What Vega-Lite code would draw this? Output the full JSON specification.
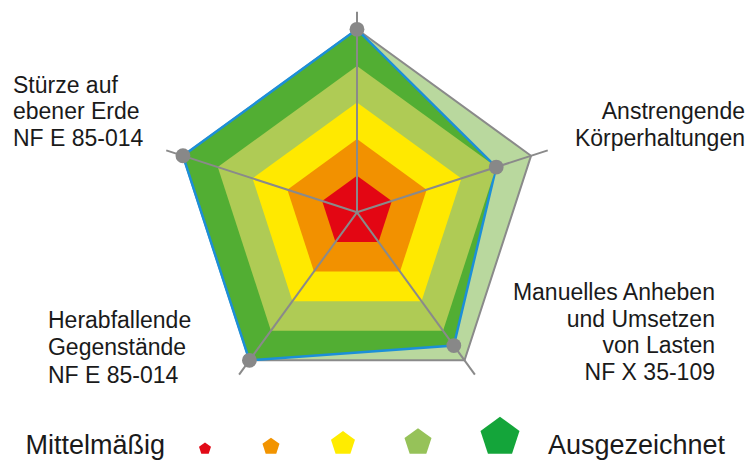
{
  "$schema": "https://vega.github.io/schema/vega-lite/v6.json",
  "autosize": {"type": "fit", "contains": "padding"},
  "width": 756,
  "height": 460,
  "padding": 0,
  "background": "white",
  "config": {"view": {"stroke": null}, "text": {"font": "Liberation Sans", "fontSize": 23, "color": "#1a1a1a"}},
  "datasets": {
    "rings": [
      {"band": 1, "k": 0}, {"band": 1, "k": 1}, {"band": 1, "k": 2}, {"band": 1, "k": 3}, {"band": 1, "k": 4},
      {"band": 2, "k": 0}, {"band": 2, "k": 1}, {"band": 2, "k": 2}, {"band": 2, "k": 3}, {"band": 2, "k": 4},
      {"band": 3, "k": 0}, {"band": 3, "k": 1}, {"band": 3, "k": 2}, {"band": 3, "k": 3}, {"band": 3, "k": 4},
      {"band": 4, "k": 0}, {"band": 4, "k": 1}, {"band": 4, "k": 2}, {"band": 4, "k": 3}, {"band": 4, "k": 4},
      {"band": 5, "k": 0}, {"band": 5, "k": 1}, {"band": 5, "k": 2}, {"band": 5, "k": 3}, {"band": 5, "k": 4}
    ],
    "scores": [
      {"axis": "(oben)", "k": 0, "value": 5},
      {"axis": "Anstrengende Körperhaltungen", "k": 1, "value": 4},
      {"axis": "Manuelles Anheben und Umsetzen von Lasten", "k": 2, "value": 4.5},
      {"axis": "Herabfallende Gegenstände", "k": 3, "value": 5},
      {"axis": "Stürze auf ebener Erde", "k": 4, "value": 5}
    ],
    "legend": [
      {"level": 1, "name": "Mittelmäßig"},
      {"level": 2, "name": ""},
      {"level": 3, "name": ""},
      {"level": 4, "name": ""},
      {"level": 5, "name": "Ausgezeichnet"}
    ]
  },
  "layer": [
    {
      "data": {"name": "rings"},
      "transform": [
        {"filter": "datum.band == 5"},
        {"calculate": "PI/2 - 2*PI*datum.k/5", "as": "theta"},
        {"calculate": "datum.band*cos(datum.theta)", "as": "px"},
        {"calculate": "datum.band*sin(datum.theta)", "as": "py"}
      ],
      "mark": {"type": "line", "interpolate": "linear-closed", "fill": "#b9d89e", "stroke": "#8a8a8a", "strokeWidth": 2},
      "encoding": {
        "x": {"field": "px", "type": "quantitative", "scale": {"domain": [-9.754, 10.902], "nice": false, "zero": false}, "axis": null},
        "y": {"field": "py", "type": "quantitative", "scale": {"domain": [-6.768, 5.801], "nice": false, "zero": false}, "axis": null},
        "order": {"field": "k", "type": "quantitative"}
      }
    },
    {
      "data": {"name": "scores"},
      "transform": [
        {"calculate": "PI/2 - 2*PI*datum.k/5", "as": "theta"},
        {"calculate": "datum.value*cos(datum.theta)", "as": "px"},
        {"calculate": "datum.value*sin(datum.theta)", "as": "py"}
      ],
      "mark": {"type": "line", "interpolate": "linear-closed", "fill": "#52ae33", "stroke": "#1c8fd8", "strokeWidth": 2.5},
      "encoding": {
        "x": {"field": "px", "type": "quantitative"},
        "y": {"field": "py", "type": "quantitative"},
        "order": {"field": "k", "type": "quantitative"}
      }
    },
    {
      "data": {"name": "rings"},
      "transform": [
        {"filter": "datum.band == 4"},
        {"calculate": "PI/2 - 2*PI*datum.k/5", "as": "theta"},
        {"calculate": "datum.band*cos(datum.theta)", "as": "px"},
        {"calculate": "datum.band*sin(datum.theta)", "as": "py"}
      ],
      "mark": {"type": "line", "interpolate": "linear-closed", "fill": "#afcb55", "strokeOpacity": 0},
      "encoding": {
        "x": {"field": "px", "type": "quantitative"},
        "y": {"field": "py", "type": "quantitative"},
        "order": {"field": "k", "type": "quantitative"}
      }
    },
    {
      "data": {"name": "rings"},
      "transform": [
        {"filter": "datum.band == 3"},
        {"calculate": "PI/2 - 2*PI*datum.k/5", "as": "theta"},
        {"calculate": "datum.band*cos(datum.theta)", "as": "px"},
        {"calculate": "datum.band*sin(datum.theta)", "as": "py"}
      ],
      "mark": {"type": "line", "interpolate": "linear-closed", "fill": "#ffe900", "strokeOpacity": 0},
      "encoding": {
        "x": {"field": "px", "type": "quantitative"},
        "y": {"field": "py", "type": "quantitative"},
        "order": {"field": "k", "type": "quantitative"}
      }
    },
    {
      "data": {"name": "rings"},
      "transform": [
        {"filter": "datum.band == 2"},
        {"calculate": "PI/2 - 2*PI*datum.k/5", "as": "theta"},
        {"calculate": "datum.band*cos(datum.theta)", "as": "px"},
        {"calculate": "datum.band*sin(datum.theta)", "as": "py"}
      ],
      "mark": {"type": "line", "interpolate": "linear-closed", "fill": "#f29100", "strokeOpacity": 0},
      "encoding": {
        "x": {"field": "px", "type": "quantitative"},
        "y": {"field": "py", "type": "quantitative"},
        "order": {"field": "k", "type": "quantitative"}
      }
    },
    {
      "data": {"name": "rings"},
      "transform": [
        {"filter": "datum.band == 1"},
        {"calculate": "PI/2 - 2*PI*datum.k/5", "as": "theta"},
        {"calculate": "datum.band*cos(datum.theta)", "as": "px"},
        {"calculate": "datum.band*sin(datum.theta)", "as": "py"}
      ],
      "mark": {"type": "line", "interpolate": "linear-closed", "fill": "#e30613", "strokeOpacity": 0},
      "encoding": {
        "x": {"field": "px", "type": "quantitative"},
        "y": {"field": "py", "type": "quantitative"},
        "order": {"field": "k", "type": "quantitative"}
      }
    },
    {
      "data": {"name": "scores"},
      "transform": [
        {"calculate": "PI/2 - 2*PI*datum.k/5", "as": "theta"},
        {"calculate": "0", "as": "px"},
        {"calculate": "0", "as": "py"},
        {"calculate": "5.48*cos(datum.theta)", "as": "ex"},
        {"calculate": "5.48*sin(datum.theta)", "as": "ey"}
      ],
      "mark": {"type": "rule", "color": "#8a8a8a", "strokeWidth": 2},
      "encoding": {
        "x": {"field": "px", "type": "quantitative"},
        "y": {"field": "py", "type": "quantitative"},
        "x2": {"field": "ex"},
        "y2": {"field": "ey"}
      }
    },
    {
      "data": {"name": "scores"},
      "transform": [
        {"calculate": "PI/2 - 2*PI*datum.k/5", "as": "theta"},
        {"calculate": "datum.value*cos(datum.theta)", "as": "px"},
        {"calculate": "datum.value*sin(datum.theta)", "as": "py"}
      ],
      "mark": {"type": "circle", "size": 220, "color": "#888888", "opacity": 1},
      "encoding": {
        "x": {"field": "px", "type": "quantitative"},
        "y": {"field": "py", "type": "quantitative"}
      }
    },
    {
      "data": {"name": "scores"},
      "transform": [{"filter": "datum.k == 4"}],
      "mark": {"type": "text", "align": "left", "baseline": "alphabetic", "lineHeight": 26.5, "text": ["Stürze auf", "ebener Erde", "NF E 85-014"]},
      "encoding": {"x": {"datum": -9.399, "type": "quantitative"}, "y": {"datum": 3.26, "type": "quantitative"}}
    },
    {
      "data": {"name": "scores"},
      "transform": [{"filter": "datum.k == 1"}],
      "mark": {"type": "text", "align": "right", "baseline": "alphabetic", "lineHeight": 27, "text": ["Anstrengende", "Körperhaltungen"]},
      "encoding": {"x": {"datum": 10.601, "type": "quantitative"}, "y": {"datum": 2.541, "type": "quantitative"}}
    },
    {
      "data": {"name": "scores"},
      "transform": [{"filter": "datum.k == 2"}],
      "mark": {"type": "text", "align": "right", "baseline": "alphabetic", "lineHeight": 26.7, "text": ["Manuelles Anheben", "und Umsetzen", "von Lasten", "NF X 35-109"]},
      "encoding": {"x": {"datum": 9.781, "type": "quantitative"}, "y": {"datum": -2.396, "type": "quantitative"}}
    },
    {
      "data": {"name": "scores"},
      "transform": [{"filter": "datum.k == 3"}],
      "mark": {"type": "text", "align": "left", "baseline": "alphabetic", "lineHeight": 27.5, "text": ["Herabfallende", "Gegenstände", "NF E 85-014"]},
      "encoding": {"x": {"datum": -8.443, "type": "quantitative"}, "y": {"datum": -3.161, "type": "quantitative"}}
    },
    {
      "data": {"name": "legend"},
      "transform": [{"filter": "datum.level == 1"}],
      "mark": {"type": "point", "filled": true, "opacity": 1, "strokeWidth": 0, "size": 159, "color": "#e20a17", "shape": "M0,-1.809L0.951,-1.118L0.588,0L-0.588,0L-0.951,-1.118Z"},
      "encoding": {"x": {"datum": -4.153, "type": "quantitative"}, "y": {"datum": -6.6, "type": "quantitative"}}
    },
    {
      "data": {"name": "legend"},
      "transform": [{"filter": "datum.level == 2"}],
      "mark": {"type": "point", "filled": true, "opacity": 1, "strokeWidth": 0, "size": 320, "color": "#f29400", "shape": "M0,-1.809L0.951,-1.118L0.588,0L-0.588,0L-0.951,-1.118Z"},
      "encoding": {"x": {"datum": -2.35, "type": "quantitative"}, "y": {"datum": -6.6, "type": "quantitative"}}
    },
    {
      "data": {"name": "legend"},
      "transform": [{"filter": "datum.level == 3"}],
      "mark": {"type": "point", "filled": true, "opacity": 1, "strokeWidth": 0, "size": 637, "color": "#ffec00", "shape": "M0,-1.809L0.951,-1.118L0.588,0L-0.588,0L-0.951,-1.118Z"},
      "encoding": {"x": {"datum": -0.383, "type": "quantitative"}, "y": {"datum": -6.6, "type": "quantitative"}}
    },
    {
      "data": {"name": "legend"},
      "transform": [{"filter": "datum.level == 4"}],
      "mark": {"type": "point", "filled": true, "opacity": 1, "strokeWidth": 0, "size": 806, "color": "#96c259", "shape": "M0,-1.809L0.951,-1.118L0.588,0L-0.588,0L-0.951,-1.118Z"},
      "encoding": {"x": {"datum": 1.667, "type": "quantitative"}, "y": {"datum": -6.6, "type": "quantitative"}}
    },
    {
      "data": {"name": "legend"},
      "transform": [{"filter": "datum.level == 5"}],
      "mark": {"type": "point", "filled": true, "opacity": 1, "strokeWidth": 0, "size": 1682, "color": "#14a53a", "shape": "M0,-1.809L0.951,-1.118L0.588,0L-0.588,0L-0.951,-1.118Z"},
      "encoding": {"x": {"datum": 3.907, "type": "quantitative"}, "y": {"datum": -6.6, "type": "quantitative"}}
    },
    {
      "data": {"name": "legend"},
      "transform": [{"filter": "datum.level == 1"}],
      "mark": {"type": "text", "align": "right", "baseline": "alphabetic", "fontSize": 27},
      "encoding": {"x": {"datum": -5.246, "type": "quantitative"}, "y": {"datum": -6.604, "type": "quantitative"}, "text": {"field": "name"}}
    },
    {
      "data": {"name": "legend"},
      "transform": [{"filter": "datum.level == 5"}],
      "mark": {"type": "text", "align": "left", "baseline": "alphabetic", "fontSize": 27},
      "encoding": {"x": {"datum": 5.219, "type": "quantitative"}, "y": {"datum": -6.604, "type": "quantitative"}, "text": {"field": "name"}}
    }
  ]
}
